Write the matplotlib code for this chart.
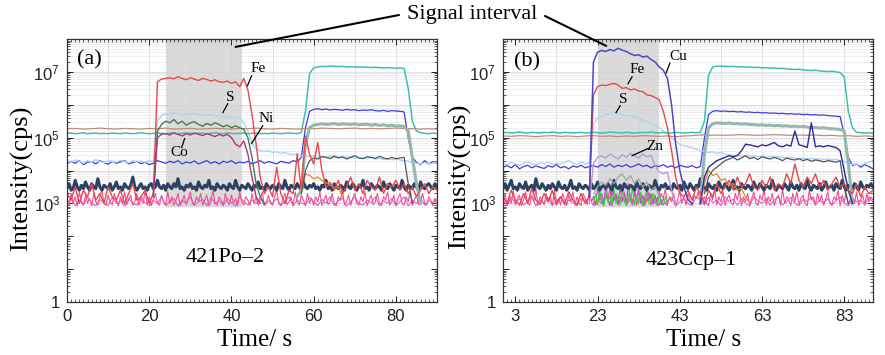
import numpy as np
import matplotlib
matplotlib.use('Agg')
import matplotlib.pyplot as plt
from matplotlib.ticker import FixedLocator, MultipleLocator, NullFormatter, FuncFormatter, LogLocator

plt.rcParams['font.family'] = 'Liberation Sans'
plt.rcParams['mathtext.fontset'] = 'custom'
plt.rcParams['mathtext.rm'] = 'Liberation Sans'
plt.rcParams['mathtext.it'] = 'Liberation Sans'
SERIF = 'Liberation Serif'

# ---------------- time grids (s) ----------------
t_1s = np.arange(0, 91, 1)
t_half = np.arange(0, 90.5, 0.5)
t_2s = np.arange(0, 91, 2)

# ---------------- panel (a): 421Po-2, values are log10(cps) ----------------
fe_a = [3.3,3.1,3.5,3.0,3.4,3.2,3.6,3.1,3.3,3.0,3.5,3.2,3.1,3.4,3.0,3.3,3.6,3.1,3.2,3.4,3.0,
        3.3, 6.7,
        6.78,6.8,6.82,6.79,6.85,6.8,6.76,6.82,6.78,6.74,6.8,6.77,6.72,6.76,6.7,6.68,6.72,6.65,6.7,
        6.55,6.8,6.45,5.7,4.8,3.8,3.3,3.5,3.2,4.1,3.3,3.0,3.4,3.3,4.5,3.4,5.05,4.5,4.2,4.85,4.0,3.5,
        3.6,3.4,3.7,3.3,3.5,3.8,3.4,3.6,3.3,3.7,3.5,3.4,3.8,3.3,3.6,3.5,3.7,3.4,3.6,3.3,3.5,3.2,3.4,3.6,3.3,3.5,3.4]
s_a = [4.3,4.25,4.32,4.28,4.22,4.3,4.26,4.33,4.27,4.24,4.3,4.28,4.25,4.31,4.27,4.23,4.3,4.26,4.29,4.25,4.3,4.27,
       5.5,
       5.68,5.72,5.7,5.75,5.73,5.68,5.72,5.7,5.74,5.69,5.72,5.67,5.7,5.65,5.68,5.62,5.66,5.6,5.63,5.58,
       5.45,5.2,4.85,4.65,4.6,
       4.58,4.6,4.55,4.57,4.52,4.55,4.5,4.48,4.5,4.45,
       4.45,4.42,4.45,4.4,4.43,4.41,4.44,4.4,4.42,4.38,4.41,4.4,4.37,4.4,4.38,4.36,4.39,4.35,4.37,4.34,4.36,4.33,4.35,4.32,4.3,
       4.28,4.25,4.22,4.2,4.24,4.2,4.22,4.25]
blue_a = [4.2,4.28,4.22,4.3,4.18,4.25,4.27,4.2,4.3,4.24,
          4.19,4.28,4.22,4.26,4.3,4.2,4.24,4.28,4.21,4.25,
          4.18,4.22,4.3,4.26,4.22,4.28,4.24,4.3,4.2,4.26,
          4.23,4.29,4.2,4.25,4.3,4.22,4.27,4.2,4.28,4.24,
          4.3,4.21,4.26,4.23,4.28,4.2,4.25,4.3,4.22,4.27,
          4.24,4.2,4.28,4.25,4.22,4.3,4.26,4.4,
          5.3,5.8,
          5.86,5.88,5.85,5.87,5.84,5.86,5.85,5.83,5.86,5.84,5.85,5.82,5.84,5.83,5.85,5.82,5.81,5.83,5.8,5.82,5.81,5.8,
          5.78,5.0,4.4,
          4.25,4.18,4.3,4.2,4.27,4.22]
teal_a = [5.13,5.14,5.12,5.13,5.15,5.12,5.13,5.14,5.12,5.13,5.12,5.14,5.13,5.12,5.14,5.13,5.12,5.13,5.15,5.13,
          5.12,5.13,5.14,5.13,5.12,5.14,5.13,5.12,5.13,5.14,5.13,5.12,5.14,5.13,5.12,5.13,5.15,5.13,5.12,5.14,
          5.13,5.12,5.13,5.14,5.12,5.13,5.14,5.12,5.13,5.12,5.14,5.13,5.12,5.13,5.14,5.13,5.12,5.16,
          5.8,6.95,
          7.12,7.15,7.17,7.16,7.18,7.17,7.16,7.17,7.15,7.16,7.15,7.14,7.15,7.14,7.13,7.14,7.13,7.12,7.13,7.12,7.11,7.12,7.1,
          6.5,5.5,5.2,
          5.15,5.13,5.12,5.14,5.12]
brown_a = [5.27,5.28,5.26,5.27,5.29,5.27,5.26,5.28,5.27,5.26,5.28,5.27,5.29,5.26,5.27,5.28,5.26,5.27,5.28,5.27,
           5.26,5.28,5.27,5.29,5.27,5.26,5.28,5.27,5.26,5.28,5.27,5.29,5.28,5.27,5.28,5.29,5.27,5.28,5.27,5.28,
           5.29,5.28,5.27,5.26,5.27,5.26]
t_ni_a = np.arange(21, 49)
ni_a = [3.3,5.2,5.4,5.5,5.45,5.55,5.42,5.5,5.38,5.45,5.48,5.4,5.35,5.43,5.38,5.45,5.4,5.33,5.38,5.3,5.36,
        5.3,5.25,5.0,4.4,3.6,3.2,3.0]
t_co_a = np.arange(21, 48)
co_a = [3.2,5.0,5.1,5.12,5.08,5.15,5.1,5.05,5.12,5.08,5.14,5.1,5.06,5.12,5.08,5.03,5.1,5.05,5.1,
        5.0,4.8,4.72,4.9,4.5,3.8,3.2,3.0]
t_gg_a = np.arange(56, 87)
gg_a = [3.2,3.4,4.8,5.3,
        5.38,5.4,5.42,5.4,5.41,5.43,5.4,5.42,5.41,5.4,5.42,5.39,5.4,5.41,5.38,5.4,5.37,5.39,5.36,5.38,5.35,5.36,5.34,
        5.2,4.4,3.6,3.0]
t_dg_a = np.arange(57, 85)
dg_a = [3.3,4.0,4.3,
        4.38,4.35,4.42,4.4,4.36,4.44,4.38,4.42,4.35,4.4,4.45,4.38,4.36,4.42,4.4,4.37,4.43,4.38,4.35,4.4,4.36,4.38,4.4,
        3.6,3.0]
t_or_a = np.arange(57, 68)
or_a = [3.3,3.9,3.85,3.75,3.8,3.7,3.6,3.65,3.45,3.5,3.2]
navy_a = [3.5,3.6,3.4,3.45,3.7,3.5,3.4,3.55,3.45,3.65,
          3.5,3.4,3.6,3.5,3.45,3.75,3.5,3.4,3.55,3.5,
          3.45,3.6,3.4,3.5,3.65,3.45,3.5,3.4,3.6,3.5,
          3.45,3.55,3.8,3.5,3.4,3.5,3.6,3.45,3.5,3.4,
          3.55,3.6,3.45,3.5,3.7,3.5,3.45,3.55,3.4,3.6,
          3.5,3.45,3.6,3.5,3.75,3.45,3.5,3.4,3.55,3.5,
          3.6,3.45,3.5,3.4,3.65,3.5,3.45,3.55,3.5,3.7,
          3.45,3.5,3.4,3.6,3.5,3.45,3.55,3.5,3.4,3.6,
          3.5,3.45,3.7,3.5,3.4,3.55,3.5,3.45,3.6,3.5,
          3.4,3.55,3.5,3.65,3.45,3.5,3.4,3.6,3.5,3.45,
          3.55,3.5,3.4,3.6,3.5,3.45,3.7,3.5,3.4,3.55,
          3.5,3.45,3.6,3.5,3.4,3.65,3.5,3.45,3.55,3.5,
          3.6,3.45,3.5,3.4,3.55,3.5,3.7,3.45,3.5,3.4,
          3.6,3.5,3.45,3.55,3.5,3.4,3.65,3.5,3.45,3.6,
          3.5,3.4,3.55,3.5,3.7,3.45,3.5,3.4,3.6,3.5,
          3.45,3.55,3.5,3.4,3.65,3.5,3.45,3.6,3.5,3.4,
          3.55,3.5,3.45,3.7,3.5,3.4,3.55,3.5,3.45,3.6,
          3.5,3.4,3.65,3.5,3.45,3.55,3.6,3.5,3.45,3.6,
          3.5]
pink_a = [3.1,2.95,3.3,3.0,3.2,2.92,3.35,3.05,2.95,3.25,
          3.0,3.15,2.93,3.3,3.05,2.95,3.2,3.4,3.0,2.94,
          3.25,3.05,2.95,3.3,3.1,2.92,3.2,3.0,3.35,2.96,
          3.1,3.25,2.94,3.05,3.3,2.95,3.15,3.0,3.38,2.97,
          3.2,2.93,3.1,3.3,3.0,2.95,3.25,3.05,2.94,3.35,
          3.0,3.2,2.95,3.1,3.3,2.93,3.05,3.25,2.96,3.15,
          3.35,3.0,2.94,3.2,3.05,3.3,2.95,3.1,3.25,2.93,
          3.05,3.4,3.0,2.95,3.2,3.1,2.94,3.3,3.05,2.96,
          3.25,3.0,3.15,2.93,3.35,3.05,2.95,3.2,3.1,2.94,
          3.3,3.0,3.2,2.95,3.1,3.35,2.94,3.05,3.25,3.0,
          2.95,3.2,3.4,3.0,2.93,3.15,3.3,2.96,3.05,3.2,
          2.94,3.35,3.05,2.95,3.25,3.1,2.93,3.3,3.0,3.15,
          2.95,3.2,3.05,3.35,2.94,3.1,3.25,2.96,3.05,3.3,
          3.0,2.93,3.2,3.1,3.4,2.95,3.05,3.25,2.94,3.15,
          3.3,3.0,2.95,3.2,3.05,3.35,2.93,3.1,3.25,2.96,
          3.05,3.3,3.0,2.94,3.2,3.1,3.35,2.95,3.05,3.25,
          2.93,3.15,3.3,3.0,2.95,3.2,3.05,3.4,2.94,3.1,
          3.25,2.96,3.05,3.3,3.0,2.95,3.2,3.1,2.93,3.15,
          3.0]
violet_a = [3.0,3.15,2.92,3.1,2.95,3.2,3.0,2.93,3.12,3.02,
            2.94,3.18,3.0,3.08,2.92,3.15,3.0,2.95,3.22,3.02,
            2.93,3.1,3.0,3.2,2.94,3.05,3.15,2.92,3.1,3.0,
            3.2,2.95,3.05,3.12,2.93,3.18,3.0,3.08,2.94,3.15,
            3.02,2.92,3.2,3.05,2.95,3.1,3.0,3.18,2.93,3.08,
            3.0,3.15,2.94,3.05,3.2,2.92,3.1,3.02,2.95,3.18,
            3.05,2.93,3.12,3.0,3.2,2.94,3.08,3.15,2.92,3.05,
            3.18,3.0,2.95,3.1,3.02,3.2,2.93,3.08,3.0,3.15,
            2.94,3.05,3.2,2.92,3.1,3.0,3.15,2.95,3.08,3.02,
            3.12]

# ---------------- panel (b): 423Ccp-1, values are log10(cps) ----------------
t_cu_b = np.arange(21, 47)
cu_b = [3.2,7.3,
        7.6,7.65,7.62,7.68,7.64,7.72,7.66,7.62,
        7.55,7.5,7.52,7.45,7.48,
        7.38,7.3,7.15,7.05,6.8,6.0,4.8,4.0,3.5,3.1,3.0]
fe_b = [3.2,3.0,3.4,3.1,2.95,3.3,3.0,3.45,3.1,2.97,3.3,3.05,3.4,2.95,3.2,3.0,3.35,3.1,2.96,3.3,3.0,3.2,
        6.3,
        6.55,6.6,6.58,6.62,6.65,6.6,
        6.5,6.52,6.45,6.48,6.42,6.4,
        6.3,6.28,6.22,6.15,
        5.8,5.3,4.6,3.8,3.3,
        3.2,3.4,3.1,3.5,3.3,3.0,3.4,3.2,3.6,3.3,
        3.5,3.7,3.4,3.8,3.5,3.6,3.9,3.5,3.4,3.7,
        3.5,3.8,3.4,3.6,3.5,3.9,3.6,4.2,3.7,3.5,
        3.8,3.6,3.9,3.5,3.7,3.4,3.6,3.8,3.5,3.6,
        3.4,3.3,3.6,3.2,3.5,3.3,3.4]
s_b = [4.22,4.18,4.25,4.2,4.15,4.22,4.28,4.2,4.17,4.24,4.2,4.26,4.18,4.22,4.2,4.25,4.3,4.22,4.18,4.26,4.2,4.24,
       5.4,
       5.6,5.65,5.7,5.72,5.78,
       5.72,5.7,5.66,5.68,5.62,5.6,
       5.52,5.48,5.42,5.38,
       5.3,5.2,5.1,5.0,4.9,
       4.8,4.75,4.72,4.7,4.65,
       4.6,4.58,4.55,4.57,4.52,4.55,4.5,4.48,
       4.45,4.47,4.44,4.46,4.43,4.45,4.42,4.44,4.4,4.43,4.41,4.42,4.4,4.38,4.4,
       4.38,4.36,4.38,4.35,4.37,4.34,4.36,4.33,4.35,4.32,4.34,4.3,
       4.28,4.22,4.18,4.2,4.15,4.22,4.25,4.3]
t_zn_b = np.arange(21, 43)
zn_b = [3.0,4.2,
        4.4,4.45,4.38,4.5,4.42,4.35,4.48,4.4,4.52,4.45,4.38,4.5,4.42,4.46,
        4.15,3.95,3.9,3.95,3.4,3.0]
blue_b = [4.1,4.15,4.08,4.18,4.05,4.12,4.16,4.08,4.14,4.1,
          4.06,4.15,4.1,4.18,4.08,4.12,4.05,4.14,4.1,4.16,
          4.08,4.12,4.15,4.1,4.18,4.12,4.2,4.1,4.16,4.12,
          4.18,4.1,4.14,4.2,4.12,4.16,4.08,4.15,4.12,4.18,
          4.1,4.14,4.08,4.16,4.12,4.1,4.15,4.08,4.12,
          5.0,5.7,
          5.8,5.82,5.8,5.81,5.79,5.8,5.78,5.79,5.77,5.78,
          5.76,5.77,5.75,5.76,5.74,5.75,5.73,5.74,5.72,5.73,
          5.71,5.72,5.7,5.71,5.69,5.7,5.68,5.69,5.67,5.66,
          5.65,5.64,
          5.1,4.4,
          4.15,4.2,4.1,4.18,4.12,4.05]
t_navy_b = np.arange(48, 86)
navyline_b = [3.0,3.8,4.1,
              4.2,4.3,4.35,4.4,4.45,4.42,4.45,
              4.6,4.8,
              4.78,4.75,4.72,4.78,4.75,4.8,4.85,4.75,4.72,4.78,4.74,
              5.2,4.78,4.75,4.7,5.45,4.72,
              4.75,4.72,4.76,4.73,4.7,
              4.6,4.0,3.4,3.0]
teal_b = [5.15,5.16,5.14,5.15,5.17,5.15,5.14,5.16,5.15,5.14,5.16,5.15,5.17,5.15,5.14,5.16,5.15,5.14,5.15,5.16,
          5.14,5.15,5.16,5.15,5.14,5.15,5.17,5.16,5.15,5.14,5.16,5.15,5.14,5.15,5.16,5.15,5.17,5.15,5.14,5.16,
          5.15,5.14,5.16,5.15,5.14,5.15,5.16,5.15,5.16,
          5.5,6.9,
          7.15,7.17,7.18,7.17,7.16,7.17,7.15,7.16,7.14,7.15,
          7.13,7.14,7.12,7.13,7.11,7.12,7.1,7.11,7.09,7.08,
          7.07,7.08,7.06,7.05,7.04,7.05,7.03,7.02,7.01,7.02,
          7.0,6.98,
          6.85,5.8,5.3,
          5.16,5.15,5.14,5.15,5.13]
brown_b = [5.05,5.04,5.06,5.05,5.03,5.05,5.06,5.04,5.05,5.03,5.05,5.06,5.04,5.05,5.03,5.05,5.04,5.06,5.05,5.04,
           5.05,5.03,5.05,5.06,5.08,5.07,5.08,5.07,5.08,5.09,5.08,5.07,5.08,5.09,5.08,5.07,5.08,5.07,5.08,5.06,
           5.07,5.05,5.06,5.04,5.05,5.04]
t_gg_b = np.arange(48, 86)
gg_b = [3.0,4.5,5.3,
        5.42,5.45,5.44,5.43,5.45,5.42,5.43,5.41,5.42,5.4,
        5.4,5.38,5.39,5.37,5.38,5.36,5.37,5.35,5.36,5.34,5.35,5.33,5.34,5.32,5.3,5.31,5.29,5.3,5.28,5.27,5.26,5.25,
        5.2,4.2,3.0]
t_dg_b = np.arange(49, 85)
dg_b = [3.3,3.8,4.0,4.1,4.2,4.3,
        4.35,4.4,4.32,4.38,4.45,4.36,4.4,4.33,4.42,4.38,
        4.35,4.4,4.36,4.3,4.38,4.34,4.32,4.36,4.3,4.34,
        4.28,4.32,4.3,4.26,4.3,4.28,4.25,4.3,
        3.5,3.0]
t_or_b = np.arange(48, 61)
or_b = [3.0,3.6,4.0,3.85,3.9,3.7,3.75,3.55,3.6,3.4,3.45,3.2,3.0]
t_gray_b = np.arange(22, 39)
gray_b = [3.3,3.5,3.65,3.55,3.75,3.6,3.8,3.9,3.7,3.85,3.6,3.75,3.5,3.65,3.4,3.5,3.2]
t_burst_b = np.arange(22, 40.5, 0.5)
green_b = [3.0,3.3,2.95,3.4,3.1,2.92,3.35,3.05,3.2,2.94,
           3.45,3.0,3.25,2.95,3.4,3.1,2.93,3.3,3.05,3.5,
           2.95,3.2,3.0,3.35,2.94,3.15,3.4,3.0,2.96,3.3,
           3.1,2.93,3.25,3.05,2.95,3.2,3.0]
magenta_b = [3.2,2.95,3.45,3.1,3.3,3.0,3.55,3.15,2.94,3.4,
             3.1,3.25,2.96,3.5,3.05,3.3,3.0,3.6,3.1,2.95,
             3.35,3.15,3.45,3.0,3.25,2.94,3.4,3.1,3.3,2.97,
             3.2,3.05,3.35,2.95,3.15,3.0,2.94]
navy_b = [3.45,3.6,3.4,3.55,3.7,3.45,3.5,3.4,3.6,3.5,
          3.45,3.65,3.4,3.5,3.55,3.4,3.75,3.5,3.45,3.6,
          3.5,3.4,3.55,3.45,3.6,3.5,3.4,3.65,3.5,3.45,
          3.55,3.4,3.5,3.7,3.45,3.5,3.4,3.6,3.5,3.45,
          3.55,3.5,3.4,3.6,3.45,3.5,3.65,3.4,3.5,3.55,
          3.45,3.6,3.5,3.4,3.7,3.5,3.45,3.55,3.4,3.6,
          3.5,3.45,3.55,3.5,3.4,3.65,3.5,3.45,3.6,3.5,
          3.4,3.55,3.5,3.45,3.7,3.5,3.4,3.55,3.5,3.6,
          3.45,3.5,3.4,3.6,3.5,3.45,3.55,3.4,3.65,3.5,
          3.45,3.6,3.5,3.4,3.55,3.5,3.75,3.45,3.5,3.4,
          3.6,3.5,3.45,3.55,3.4,3.65,3.5,3.45,3.6,3.5,
          3.4,3.55,3.7,3.45,3.5,3.4,3.6,3.5,3.45,3.55,
          3.5,3.4,3.65,3.5,3.45,3.6,3.5,3.4,3.55,3.5,
          3.45,3.7,3.5,3.4,3.55,3.5,3.45,3.6,3.5,3.4,
          3.65,3.5,3.45,3.55,3.4,3.6,3.5,3.45,3.7,3.5,
          3.4,3.55,3.5,3.45,3.6,3.4,3.5,3.65,3.45,3.5,
          3.55,3.4,3.6,3.5,3.45,3.7,3.5,3.4,3.55,3.5,
          3.45,3.6,3.5,3.4,3.65,3.5,3.45,3.55,3.5,3.6,
          3.5]
pink_b = [3.05,3.3,2.94,3.2,3.0,3.4,2.95,3.15,3.25,2.93,
          3.1,3.35,3.0,2.95,3.25,3.05,3.45,2.94,3.2,3.1,
          2.96,3.3,3.05,3.2,2.93,3.4,3.0,3.15,2.95,3.3,
          3.1,2.94,3.25,3.05,3.35,2.95,3.2,3.0,2.93,3.3,
          3.15,2.96,3.4,3.05,3.2,2.94,3.1,3.3,3.0,2.95,
          3.25,3.1,3.45,2.93,3.15,3.3,2.96,3.2,3.05,3.35,
          2.94,3.1,3.25,3.0,3.4,2.95,3.15,3.3,2.93,3.2,
          3.05,3.35,2.95,3.1,3.25,3.0,2.94,3.3,3.15,3.45,
          2.96,3.2,3.05,3.3,2.93,3.1,3.4,3.0,3.2,2.95,
          3.3,3.05,2.94,3.25,3.15,3.35,2.96,3.1,3.2,3.0,
          2.93,3.3,3.1,3.45,2.95,3.2,3.05,3.35,2.94,3.15,
          3.25,3.0,2.96,3.3,3.1,3.4,2.93,3.2,3.05,3.3,
          2.95,3.15,3.35,3.0,2.94,3.25,3.1,3.4,2.96,3.2,
          3.05,3.3,2.93,3.15,3.25,2.95,3.45,3.0,3.2,3.1,
          2.94,3.3,3.05,3.35,2.96,3.15,3.25,3.0,2.93,3.4,
          3.1,3.2,2.95,3.3,3.05,3.25,2.94,3.15,3.35,3.0,
          2.96,3.2,3.1,3.4,2.93,3.25,3.05,3.3,2.95,3.15,
          3.2,3.0,3.35,2.94,3.1,3.25,2.96,3.3,3.05,3.2,
          3.1]
violet_b = [3.1,2.93,3.2,3.0,3.15,2.95,3.05,3.22,2.92,3.1,
            3.0,3.18,2.94,3.08,3.2,2.95,3.1,3.02,2.93,3.15,
            3.05,3.2,2.92,3.1,3.0,3.25,2.95,3.12,3.02,3.2,
            2.94,3.15,3.05,3.3,2.93,3.1,3.2,3.0,3.25,2.95,
            3.08,3.18,2.92,3.05,3.15,3.0,2.94,3.2,3.1,2.95,
            3.18,3.02,3.1,2.93,3.2,3.05,3.12,2.95,3.15,3.0,
            2.92,3.2,3.08,3.0,3.15,2.94,3.1,3.2,2.95,3.05,
            3.18,3.0,2.93,3.12,3.05,3.2,2.95,3.1,3.0,3.15,
            2.94,3.08,3.2,3.0,2.93,3.15,3.05,3.1,2.95,3.2,
            3.02]

# ---------------- labels / ticks ----------------
xticks_a = [0, 20, 40, 60, 80]
xticks_b = [3, 23, 43, 63, 83]
vgrid_a = [10, 20, 30, 40, 50, 60, 70, 80]
vgrid_b = [13, 23, 33, 43, 53, 63, 73, 83]
signal_a = (24, 42.5)
signal_b = (23, 38)
sample_a = '421Po\u20132'
sample_b = '423Ccp\u20131'

C = dict(fe='#e5484d', s='#aad6f0', blue='#3c3ce0', teal='#3fbfb0', brown='#c48878',
         ni='#3f7d58', co='#b0357a', gg='#94b8ae', dg='#555555', orange='#e0892c',
         navy='#2c4263', pink='#f0508f', violet='#d662d8', cu='#4a4ac2', zn='#b89ad6',
         navyline='#2a2a9c', gray='#a0a8a0', green='#36d436', magenta='#cc44dd')

FLOOR = 2.9


def E(v):
    return np.power(10.0, np.asarray(v, dtype=float))


fig = plt.figure(figsize=(8.85, 3.55), dpi=100)
ax_a = fig.add_axes([67/885, 1-302/355, 370/885, 263/355])
ax_b = fig.add_axes([503/885, 1-302/355, 370/885, 263/355])


def style(ax, xticks, vgrid, signal):
    ax.set_yscale('log')
    ax.set_xlim(0, 90)
    ax.set_ylim(1, 1e8)
    frac = FLOOR / 8.0
    for k in range(2, 8):
        for m in range(1, 10):
            y = m * 10.0 ** k
            if y < 10 ** FLOOR or y > 1e8:
                continue
            ax.axhline(y, color='#d9d9d9' if m == 1 else '#ececec', lw=0.6, zorder=0.3)
    for xv in vgrid:
        ax.axvline(xv, ymin=frac, ymax=1, color='#e2e2e2', lw=0.7, zorder=0.3)
    ax.axvspan(signal[0], signal[1], ymin=frac, ymax=1, color='#d2d2d2', alpha=0.8, lw=0, zorder=0.5)
    ax.yaxis.set_major_locator(FixedLocator([10.0 ** k for k in range(0, 9)]))
    ax.yaxis.set_minor_locator(LogLocator(base=10, subs=np.arange(2, 10), numticks=20))
    ax.yaxis.set_minor_formatter(NullFormatter())
    lab = {0: '1', 3: '10$^3$', 5: '10$^5$', 7: '10$^7$'}
    ax.yaxis.set_major_formatter(FuncFormatter(lambda v, p: lab.get(int(round(np.log10(v))), '')))
    ax.xaxis.set_major_locator(FixedLocator(xticks))
    ax.xaxis.set_minor_locator(MultipleLocator(1))
    ax.tick_params(which='both', direction='in', top=True, right=True, labelsize=12, colors='#222222')
    ax.tick_params(which='major', length=4, width=0.7, pad=5)
    ax.tick_params(which='minor', length=2, width=0.5)
    for sp in ax.spines.values():
        sp.set_color('#333333')
        sp.set_linewidth(0.9)


style(ax_a, xticks_a, vgrid_a, signal_a)
style(ax_b, xticks_b, vgrid_b, signal_b)

# ---- panel (a) traces ----
ax_a.plot(t_1s, E(violet_a), color=C['violet'], lw=0.8, zorder=2)
ax_a.plot(t_half, E(pink_a), color=C['pink'], lw=0.8, zorder=2)
ax_a.plot(t_half, E(navy_a), color=C['navy'], lw=2.2, zorder=2.2)
ax_a.plot(t_1s, E(fe_a), color=C['fe'], lw=1.0, zorder=2.4)
ax_a.plot(t_or_a, E(or_a), color=C['orange'], lw=0.9, zorder=2.3)
ax_a.plot(t_1s, E(blue_a), color=C['blue'], lw=0.9, zorder=2.3)
ax_a.plot(t_1s, E(s_a), color=C['s'], lw=1.0, zorder=2.3)
ax_a.plot(t_1s, E(teal_a), color=C['teal'], lw=1.1, zorder=2.3)
ax_a.plot(t_2s, E(brown_a), color=C['brown'], lw=0.9, zorder=2.3)
ax_a.plot(t_gg_a, E(gg_a), color=C['gg'], lw=2.2, zorder=2.3)
ax_a.plot(t_dg_a, E(dg_a), color=C['dg'], lw=0.9, zorder=2.3)
ax_a.plot(t_ni_a, E(ni_a), color=C['ni'], lw=1.0, zorder=2.4)
ax_a.plot(t_co_a, E(co_a), color=C['co'], lw=1.0, zorder=2.4)

# ---- panel (b) traces ----
ax_b.plot(t_1s, E(violet_b), color=C['violet'], lw=0.8, zorder=2)
ax_b.plot(t_half, E(pink_b), color=C['pink'], lw=0.8, zorder=2)
ax_b.plot(t_burst_b, E(magenta_b), color=C['magenta'], lw=0.8, zorder=2.1)
ax_b.plot(t_burst_b, E(green_b), color=C['green'], lw=0.8, zorder=2.1)
ax_b.plot(t_half, E(navy_b), color=C['navy'], lw=2.2, zorder=2.2)
ax_b.plot(t_gray_b, E(gray_b), color=C['gray'], lw=0.9, zorder=2.3)
ax_b.plot(t_or_b, E(or_b), color=C['orange'], lw=0.9, zorder=2.3)
ax_b.plot(t_1s, E(fe_b), color=C['fe'], lw=1.0, zorder=2.4)
ax_b.plot(t_1s, E(blue_b), color=C['blue'], lw=0.9, zorder=2.3)
ax_b.plot(t_1s, E(s_b), color=C['s'], lw=1.0, zorder=2.3)
ax_b.plot(t_1s, E(teal_b), color=C['teal'], lw=1.1, zorder=2.3)
ax_b.plot(t_2s, E(brown_b), color=C['brown'], lw=0.9, zorder=2.3)
ax_b.plot(t_gg_b, E(gg_b), color=C['gg'], lw=2.2, zorder=2.3)
ax_b.plot(t_dg_b, E(dg_b), color=C['dg'], lw=0.9, zorder=2.3)
ax_b.plot(t_navy_b, E(navyline_b), color=C['navyline'], lw=1.0, zorder=2.35)
ax_b.plot(t_zn_b, E(zn_b), color=C['zn'], lw=1.0, zorder=2.4)
ax_b.plot(t_cu_b, E(cu_b), color=C['cu'], lw=1.1, zorder=2.5)

# ---- element labels with leader lines ----
def tag(ax, txt, xt, yt, x0, y0, x1, y1):
    ax.text(xt, 10 ** yt, txt, family=SERIF, fontsize=11, ha='center', va='center', zorder=5)
    ax.plot([x0, x1], [10 ** y0, 10 ** y1], color='black', lw=0.9, zorder=5)

tag(ax_a, 'Fe', 46.6, 7.09, 44.9, 6.88, 43.9, 6.58)
tag(ax_a, 'S', 39.6, 6.21, 39.1, 6.03, 37.9, 5.76)
tag(ax_a, 'Ni', 48.5, 5.58, 47.6, 5.36, 44.9, 4.82)
tag(ax_a, 'Co', 27.4, 4.55, 28.6, 4.97, 27.9, 4.70)
tag(ax_b, 'Cu', 42.6, 7.48, 40.6, 7.27, 39.7, 6.97)
tag(ax_b, 'Fe', 32.6, 7.06, 31.4, 6.85, 30.4, 6.64)
tag(ax_b, 'S', 29.2, 6.15, 28.5, 5.97, 27.5, 5.76)
tag(ax_b, 'Zn', 37.0, 4.73, 35.3, 4.67, 31.4, 4.45)

# ---- panel letters and sample names ----
ax_a.text(10/370, 1-(60-39)/263, '(a)', transform=ax_a.transAxes, family=SERIF, fontsize=16, va='center', ha='left', zorder=5)
ax_b.text(11/370, 1-(62-39)/263, '(b)', transform=ax_b.transAxes, family=SERIF, fontsize=16, va='center', ha='left', zorder=5)
ax_a.text((225-67)/370, (302-258)/263, sample_a, transform=ax_a.transAxes, family=SERIF, fontsize=16, ha='center', va='center')
ax_b.text((691-503)/370, (302-260)/263, sample_b, transform=ax_b.transAxes, family=SERIF, fontsize=16, ha='center', va='center')

# ---- axis titles ----
fig.text(22/885, 1-178/355, 'Intensity(cps)', rotation=90, family=SERIF, fontsize=19, ha='center', va='center')
fig.text(460/885, 1-176/355, 'Intensity(cps)', rotation=90, family=SERIF, fontsize=19, ha='center', va='center')
fig.text(255/885, 1-340/355, 'Time/ s', family=SERIF, fontsize=18, ha='center', va='center')
fig.text(704/885, 1-340/355, 'Time/ s', family=SERIF, fontsize=18, ha='center', va='center')

# ---- "Signal interval" callout ----
fig.text(472/885, 1-14/355, 'Signal interval', family=SERIF, fontsize=16, ha='center', va='center')
ax_a.annotate('', xy=(41.0, 10 ** 7.76), xycoords='data', xytext=(399/885, 1-15/355), textcoords='figure fraction',
              arrowprops=dict(arrowstyle='-', lw=1.5, color='black', shrinkA=0, shrinkB=0), annotation_clip=False, zorder=6)
ax_b.annotate('', xy=(25.1, 10 ** 7.79), xycoords='data', xytext=(545/885, 1-16/355), textcoords='figure fraction',
              arrowprops=dict(arrowstyle='-', lw=1.5, color='black', shrinkA=0, shrinkB=0), annotation_clip=False, zorder=6)

fig.savefig('out.png', dpi=100)
